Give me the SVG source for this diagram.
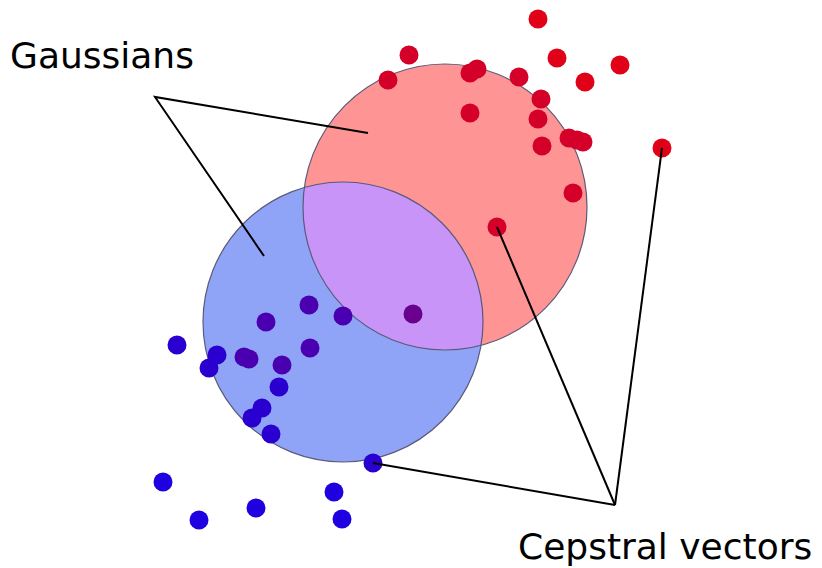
<svg xmlns="http://www.w3.org/2000/svg" width="822" height="568" viewBox="0 0 822 568">
<style>
.lbl{font-family:"DejaVu Sans",sans-serif;font-size:36px;fill:#000}
.ln{stroke:#000;stroke-width:2;fill:none}
.ol{fill:none;stroke:#5a5a7a;stroke-width:1.2}
.r{fill:#d4002a}
.ro{fill:#e00018}
.p{fill:#6a008e}
.pb{fill:#4a00b0}
.b{fill:#2a00d0}
.bo{fill:#1e00e0}
</style>
<defs>
<clipPath id="redClip"><ellipse cx="445" cy="207" rx="142" ry="143"/></clipPath>
</defs>
<rect width="822" height="568" fill="#fff"/>
<g id="gaussian-red"><ellipse cx="445" cy="207" rx="142" ry="143" fill="#fe9494"/></g>
<g id="gaussian-blue"><ellipse cx="343" cy="322" rx="140" ry="140" fill="#90a4f7"/>
<ellipse cx="343" cy="322" rx="140" ry="140" fill="#c994f7" clip-path="url(#redClip)"/></g>
<ellipse class="ol" cx="445" cy="207" rx="142" ry="143"/>
<ellipse class="ol" cx="343" cy="322" rx="140" ry="140"/>
<g id="points">
<circle class="ro" cx="538" cy="19" r="9.5"/>
<circle class="r" cx="409" cy="55" r="9.5"/>
<circle class="ro" cx="557" cy="58" r="9.5"/>
<circle class="ro" cx="620" cy="65" r="9.5"/>
<circle class="r" cx="388" cy="80" r="9.5"/>
<circle class="r" cx="470" cy="73" r="9.5"/>
<circle class="r" cx="477" cy="69" r="9.5"/>
<circle class="r" cx="519" cy="77" r="9.5"/>
<circle class="ro" cx="585" cy="82" r="9.5"/>
<circle class="r" cx="541" cy="99" r="9.5"/>
<circle class="r" cx="470" cy="113" r="9.5"/>
<circle class="r" cx="538" cy="119" r="9.5"/>
<circle class="r" cx="569" cy="138" r="9.5"/>
<circle class="r" cx="577" cy="140" r="9.5"/>
<circle class="r" cx="583" cy="142" r="9.5"/>
<circle class="r" cx="542" cy="146" r="9.5"/>
<circle class="ro" cx="662" cy="148" r="9.5"/>
<circle class="r" cx="573" cy="193" r="9.5"/>
<circle class="r" cx="497" cy="227" r="9.5"/>
<circle class="p" cx="413" cy="314" r="9.5"/>
<circle class="pb" cx="343" cy="316" r="9.5"/>
<circle class="pb" cx="309" cy="305" r="9.5"/>
<circle class="pb" cx="266" cy="322" r="9.5"/>
<circle class="pb" cx="310" cy="348" r="9.5"/>
<circle class="b" cx="177" cy="345" r="9.5"/>
<circle class="b" cx="217" cy="355" r="9.5"/>
<circle class="b" cx="209" cy="368" r="9.5"/>
<circle class="pb" cx="244" cy="357" r="9.5"/>
<circle class="pb" cx="249" cy="359" r="9.5"/>
<circle class="pb" cx="282" cy="365" r="9.5"/>
<circle class="b" cx="279" cy="387" r="9.5"/>
<circle class="b" cx="262" cy="408" r="9.5"/>
<circle class="b" cx="252" cy="418" r="9.5"/>
<circle class="b" cx="271" cy="434" r="9.5"/>
<circle class="b" cx="373" cy="463" r="9.5"/>
<circle class="bo" cx="163" cy="482" r="9.5"/>
<circle class="bo" cx="199" cy="520" r="9.5"/>
<circle class="bo" cx="256" cy="508" r="9.5"/>
<circle class="bo" cx="334" cy="492" r="9.5"/>
<circle class="bo" cx="342" cy="519" r="9.5"/>
</g>
<g id="connectors">
<polyline class="ln" points="368,133 155,97 264,256"/>
<line class="ln" x1="615" y1="505" x2="497" y2="227"/>
<line class="ln" x1="615" y1="505" x2="662" y2="148"/>
<line class="ln" x1="615" y1="505" x2="373" y2="463"/>
</g>
<g id="label-gaussians"><text class="lbl" x="10" y="68">Gaussians</text></g>
<g id="label-cepstral"><text class="lbl" x="518" y="559">Cepstral vectors</text></g>
</svg>
